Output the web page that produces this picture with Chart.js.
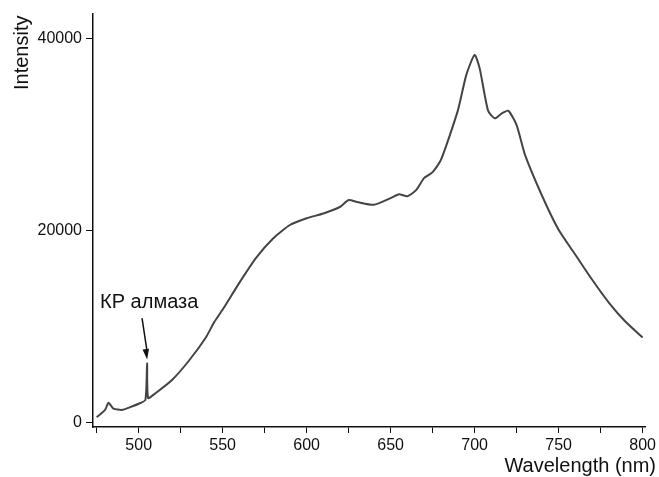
<!DOCTYPE html>
<html>
<head>
    <script src="https://cdn.jsdelivr.net/npm/chart.js@4"></script>
    <style type="text/css">
        html, body { margin: 0; padding: 0; background: #fff; }
    </style>
</head>
<body>
    <canvas id="chartSpec" width="659" height="477"></canvas>
    <script>
        const wavelength = [475, 480, 482, 485, 490, 495, 500, 504, 505, 505.6, 510, 520, 530, 540, 545, 550,
            560, 570, 580, 590, 600, 610, 620, 625, 630, 640, 650, 655, 660, 665, 670, 675, 680, 690, 695,
            700, 703, 708, 712, 716, 720, 725, 730, 740, 750, 760, 770, 780, 790, 800];
        const intensity = [600, 1350, 2100, 1500, 1350, 1650, 2000, 2400, 6200, 2600, 3100, 4500, 6500, 8900, 10500, 11800,
            14600, 17200, 19200, 20600, 21300, 21800, 22500, 23200, 23000, 22700, 23400, 23800, 23600, 24200, 25500, 26100, 27400, 32500, 36200,
            38300, 36900, 32500, 31700, 32200, 32500, 31000, 27900, 23700, 20100, 17500, 14900, 12500, 10500, 8900];
        const xTicks = [475, 500, 525, 550, 575, 600, 625, 650, 675, 700, 725, 750, 775, 800];
        const yTicks = [0, 20000, 40000];
        const noteText = 'КР алмаза';

        const font = { family: 'Liberation Sans, Arial', size: 16 };

        const extras = {
            id: 'extras',
            afterDraw(chart) {
                const c = chart.ctx, x = chart.scales.x, y = chart.scales.y;
                c.save();
                c.fillStyle = '#111';
                c.font = '20px Liberation Sans, Arial';
                // axis titles
                c.textAlign = 'right'; c.textBaseline = 'alphabetic';
                c.fillText('Wavelength (nm)', 656, 472);
                c.translate(28, 90); c.rotate(-Math.PI / 2);
                c.textAlign = 'left';
                c.fillText('Intensity', 0, 0);
                c.restore();
                c.save();
                c.fillStyle = '#111';
                c.font = '20px Liberation Sans, Arial';
                // annotation
                c.textAlign = 'left';
                c.fillText(noteText, x.getPixelForValue(477), y.getPixelForValue(12000));
                const x0 = x.getPixelForValue(502), y0 = y.getPixelForValue(10900);
                const x1 = x.getPixelForValue(505), y1 = y.getPixelForValue(6600);
                c.strokeStyle = '#111'; c.lineWidth = 1.5;
                c.beginPath(); c.moveTo(x0, y0); c.lineTo(x1, y1 - 8); c.stroke();
                const a = Math.atan2(y1 - y0, x1 - x0);
                c.beginPath();
                c.moveTo(x1, y1);
                c.lineTo(x1 - 11 * Math.cos(a - 0.3), y1 - 11 * Math.sin(a - 0.3));
                c.lineTo(x1 - 11 * Math.cos(a + 0.3), y1 - 11 * Math.sin(a + 0.3));
                c.closePath(); c.fill();
                c.restore();
            }
        };

        new Chart(document.getElementById('chartSpec'), {
            type: 'scatter',
            data: {
                datasets: [{
                    data: wavelength.map((w, i) => ({ x: w, y: intensity[i] })),
                    showLine: true,
                    borderColor: '#444',
                    borderWidth: 2,
                    pointRadius: 0,
                    tension: 0.2
                }]
            },
            options: {
                responsive: false,
                animation: false,
                layout: { padding: { left: 0, right: 9, top: 13, bottom: 0 } },
                plugins: { legend: { display: false }, tooltip: { enabled: false } },
                scales: {
                    x: {
                        type: 'linear', min: 472.8, max: 802,
                        afterBuildTicks: s => { s.ticks = xTicks.map(v => ({ value: v })); },
                        afterFit: s => { s.height = 50; },
                        ticks: { font, color: '#111', maxRotation: 0, padding: 3,
                            callback: v => v % 50 === 0 ? String(v) : '' },
                        grid: { drawOnChartArea: false, tickLength: 6, color: '#111' },
                        border: { color: '#111', width: 1.5 }
                    },
                    y: {
                        min: -420, max: 42600,
                        afterBuildTicks: s => { s.ticks = yTicks.map(v => ({ value: v })); },
                        ticks: { font, color: '#111', padding: 4, callback: v => String(v) },
                        afterFit: s => { s.width = 93; },
                        grid: { drawOnChartArea: false, tickLength: 7, color: '#111' },
                        border: { color: '#111', width: 1.5 }
                    }
                }
            },
            plugins: [extras]
        });
    </script>
</body>
</html>
